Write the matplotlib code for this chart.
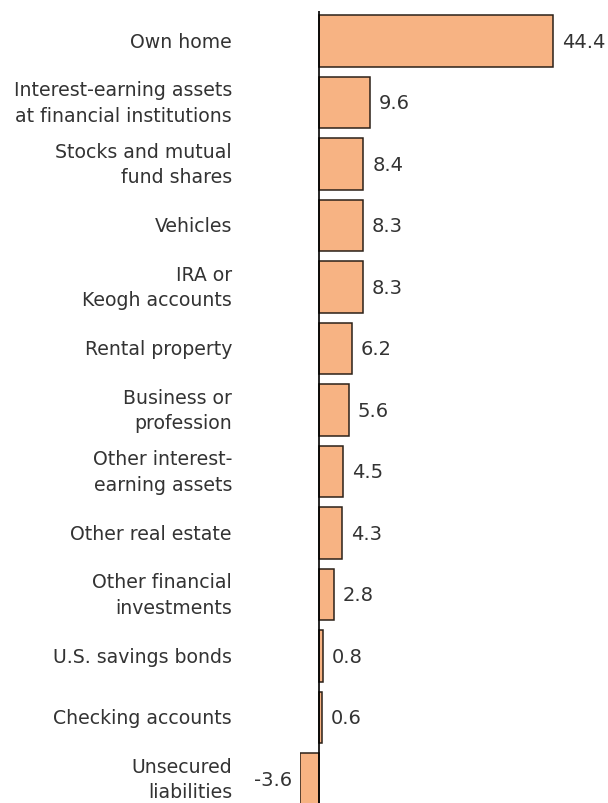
import matplotlib.pyplot as plt

# kategoriler ve degerler (yuzde)
kategoriler = ['Own home', 'Interest-earning assets\nat financial institutions',
               'Stocks and mutual\nfund shares', 'Vehicles', 'IRA or\nKeogh accounts',
               'Rental property', 'Business or\nprofession', 'Other interest-\nearning assets',
               'Other real estate', 'Other financial\ninvestments', 'U.S. savings bonds',
               'Checking accounts', 'Unsecured\nliabilities']
degerler = [44.4, 9.6, 8.4, 8.3, 8.3, 6.2, 5.6, 4.5, 4.3, 2.8, 0.8, 0.6, -3.6]

plt.rcParams['font.family'] = ['DejaVu Sans']
fig = plt.figure(figsize=(6.08, 8.04), dpi=100)
# eksen: x=-3.6 -> 300px, 0 -> 319px
ax = fig.add_axes([300 / 608, 0, 308 / 608, 792 / 804])

y = list(range(len(degerler)))
ax.barh(y, degerler, height=0.845, color='#F7B383', edgecolor='#2b2018', linewidth=1.1)
ax.axvline(0, color='black', linewidth=1.2)

for i, v in enumerate(degerler):
    if v >= 0:
        ax.text(v + 1.7, i, f'{v}', va='center', ha='left', fontsize=14, color='#333333')
    else:
        ax.text(v - 1.5, i, f'{v}', va='center', ha='right', fontsize=14, color='#333333')

ax.set_xlim(-3.6, 54.8)
ax.set_ylim(12.39, -0.488)
ax.set_yticks(y)
ax.set_yticklabels(kategoriler, fontsize=13.6, color='#333333', linespacing=1.42)
for lbl in ax.get_yticklabels():
    lbl.set_va('center')
ax.tick_params(axis='y', length=0, pad=49)
ax.set_xticks([])
for s in ax.spines.values():
    s.set_visible(False)

plt.savefig('out.png', dpi=100)
